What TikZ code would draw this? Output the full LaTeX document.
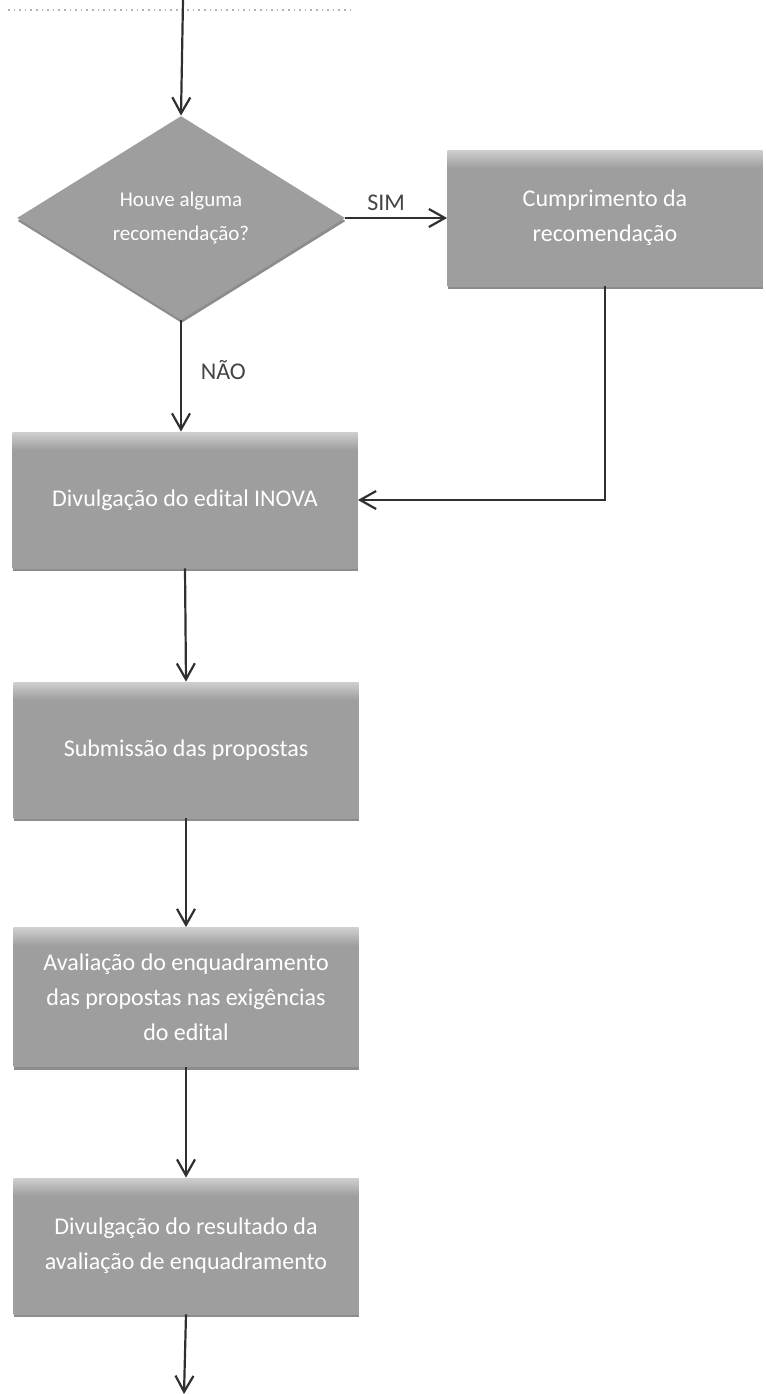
\documentclass[tikz,border=0pt]{standalone}
\usepackage{fontspec}
\setmainfont{Carlito}
\usepackage{tikz}
\usetikzlibrary{arrows.meta, shapes.geometric, shadows}

\definecolor{linegray}{HTML}{303030}
\definecolor{boxgray}{HTML}{9E9E9E}
\definecolor{boxlight}{HTML}{CFCFCF}
\definecolor{labelgray}{HTML}{444444}

% box fill: plain gray with a light bevel along the top edge
% (the node spans 25bp..75bp of the shading)
\pgfdeclareverticalshading{bevel}{100bp}{color(0bp)=(boxgray); color(68.5bp)=(boxgray);
    color(73bp)=(boxlight!70!boxgray); color(75bp)=(boxlight); color(100bp)=(boxlight)}

\tikzset{
    procbox/.style={rectangle, shade, shading=bevel, text=white, align=center,
        font=\fontsize{12}{17.5}\selectfont, inner sep=2pt,
        minimum width=172.5pt, minimum height=68pt,
        drop shadow={shadow xshift=0.3pt, shadow yshift=-1.5pt, fill=black!45, opacity=1}},
    decbox/.style={diamond, aspect=1.6, fill=boxgray, text=white, align=center,
        font=\fontsize{10.5}{17}\selectfont, inner sep=0pt,
        minimum width=164pt, minimum height=102pt,
        drop shadow={shadow xshift=0.3pt, shadow yshift=-1.5pt, fill=black!45, opacity=1}},
    flow/.style={-{Straight Barb[length=8pt, width=9pt]}, line width=1.1pt, draw=linegray},
    answer/.style={text=labelgray, font=\fontsize{12}{14}\selectfont}
}

\begin{document}
\begin{tikzpicture}[x=0.5pt, y=-0.5pt]
            \useasboundingbox (0, 0) rectangle (766, 1394);

            % trace of the box above, cut off by the page
            \draw [gray!60, dotted, line width=0.8pt] (8, 10) -- (350, 10);

            \coordinate (top) at (183, 0);
            \coordinate (bottom) at (184, 1394);

            \node[decbox] at (181, 218) (dec) {Houve alguma\\recomendação?};
            \node[procbox, minimum width=157.5pt] at (605, 218) (cump) {Cumprimento da\\recomendação};
            \node[procbox] at (185, 500) (div) {Divulgação do edital INOVA};
            \node[procbox] at (186, 750) (sub) {Submissão das propostas};
            \node[procbox, minimum height=69.5pt] at (186, 997) (aval) {Avaliação do enquadramento\\das propostas  nas exigências\\do edital};
            \node[procbox] at (186, 1246) (res) {Divulgação do resultado da\\avaliação de enquadramento};

            \draw [flow] (top) -- (dec.north);
            \draw [flow] (dec.east) -- node[answer, above=0pt, pos=0.4] (sim) {SIM} (cump.west);
            \draw [flow] (dec.south) -- node[answer, right=6pt, pos=0.45] (nao) {NÃO} (dec.south |- div.north);
            \draw [flow] (cump.south) |- (div.east);
            \draw [flow] (div.south) -- (sub.north);
            \draw [flow] (sub.south) -- (aval.north);
            \draw [flow] (aval.south) -- (res.north);
            \draw [flow] (res.south) -- (bottom);
        \end{tikzpicture}
\end{document}
